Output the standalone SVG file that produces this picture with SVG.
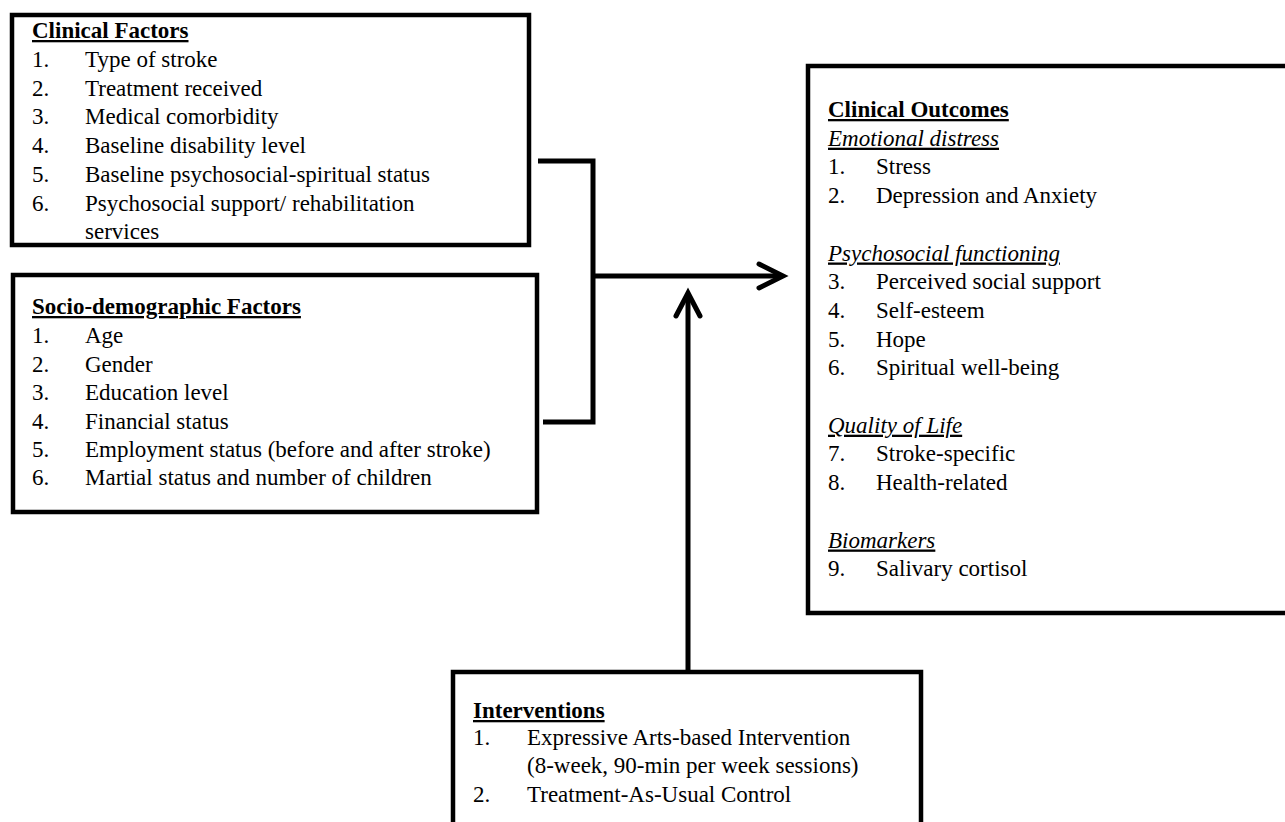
<svg xmlns="http://www.w3.org/2000/svg" width="1285" height="822" viewBox="0 0 1285 822">
<style>
.box{fill:#fff;stroke:#000;stroke-width:4.5}
.t{font-family:"Liberation Serif","Times New Roman",serif;font-size:23px;fill:#000}
.h{font-weight:bold;text-decoration:underline}
.s{font-style:italic;text-decoration:underline}
.c{fill:none;stroke:#000;stroke-width:5}
.ah{fill:none;stroke:#000;stroke-width:5;stroke-linecap:round;stroke-linejoin:miter}
</style>
<rect width="1285" height="822" fill="#fff"/>
<g id="clinical-factors">
<rect class="box" x="12" y="15" width="517" height="230"/>
<text class="t h" x="32" y="38">Clinical Factors</text>
<text class="t" x="32" y="67">1.</text><text class="t" x="85" y="67">Type of stroke</text>
<text class="t" x="32" y="95.5">2.</text><text class="t" x="85" y="95.5">Treatment received</text>
<text class="t" x="32" y="124">3.</text><text class="t" x="85" y="124">Medical comorbidity</text>
<text class="t" x="32" y="153">4.</text><text class="t" x="85" y="153">Baseline disability level</text>
<text class="t" x="32" y="182">5.</text><text class="t" x="85" y="182">Baseline psychosocial-spiritual status</text>
<text class="t" x="32" y="211">6.</text><text class="t" x="85" y="211">Psychosocial support/ rehabilitation</text>
<text class="t" x="85" y="239">services</text>
</g>
<g id="socio-demographic-factors">
<rect class="box" x="13" y="275" width="524" height="237"/>
<text class="t h" x="32" y="314">Socio-demographic Factors</text>
<text class="t" x="32" y="343">1.</text><text class="t" x="85" y="343">Age</text>
<text class="t" x="32" y="371.5">2.</text><text class="t" x="85" y="371.5">Gender</text>
<text class="t" x="32" y="400">3.</text><text class="t" x="85" y="400">Education level</text>
<text class="t" x="32" y="428.5">4.</text><text class="t" x="85" y="428.5">Financial status</text>
<text class="t" x="32" y="457">5.</text><text class="t" x="85" y="457">Employment status (before and after stroke)</text>
<text class="t" x="32" y="485">6.</text><text class="t" x="85" y="485">Martial status and number of children</text>
</g>
<g id="clinical-outcomes">
<rect class="box" x="808" y="66" width="520" height="547"/>
<text class="t h" x="828" y="117">Clinical Outcomes</text>
<text class="t s" x="828" y="145.7">Emotional distress</text>
<text class="t" x="828" y="174.4">1.</text><text class="t" x="876" y="174.4">Stress</text>
<text class="t" x="828" y="203.1">2.</text><text class="t" x="876" y="203.1">Depression and Anxiety</text>
<text class="t s" x="828" y="260.5">Psychosocial functioning</text>
<text class="t" x="828" y="289.2">3.</text><text class="t" x="876" y="289.2">Perceived social support</text>
<text class="t" x="828" y="317.9">4.</text><text class="t" x="876" y="317.9">Self-esteem</text>
<text class="t" x="828" y="346.6">5.</text><text class="t" x="876" y="346.6">Hope</text>
<text class="t" x="828" y="375.3">6.</text><text class="t" x="876" y="375.3">Spiritual well-being</text>
<text class="t s" x="828" y="432.7">Quality of Life</text>
<text class="t" x="828" y="461.4">7.</text><text class="t" x="876" y="461.4">Stroke-specific</text>
<text class="t" x="828" y="490.1">8.</text><text class="t" x="876" y="490.1">Health-related</text>
<text class="t s" x="828" y="547.5">Biomarkers</text>
<text class="t" x="828" y="576.2">9.</text><text class="t" x="876" y="576.2">Salivary cortisol</text>
</g>
<g id="interventions">
<rect class="box" x="453" y="672" width="468" height="170"/>
<text class="t h" x="473" y="718">Interventions</text>
<text class="t" x="473" y="745">1.</text><text class="t" x="527" y="745">Expressive Arts-based Intervention</text>
<text class="t" x="527" y="773">(8-week, 90-min per week sessions)</text>
<text class="t" x="473" y="802">2.</text><text class="t" x="527" y="802">Treatment-As-Usual Control</text>
</g>
<g id="connectors">
<path class="c" d="M538,161 H593 V422 H543"/>
<path class="c" d="M593,276 H781"/>
<path class="ah" d="M759,264 L783,276 L759,288"/>
<path class="c" d="M688,672 V296"/>
<path class="ah" d="M676,316 L688,293 L700,316"/>
</g>
</svg>
